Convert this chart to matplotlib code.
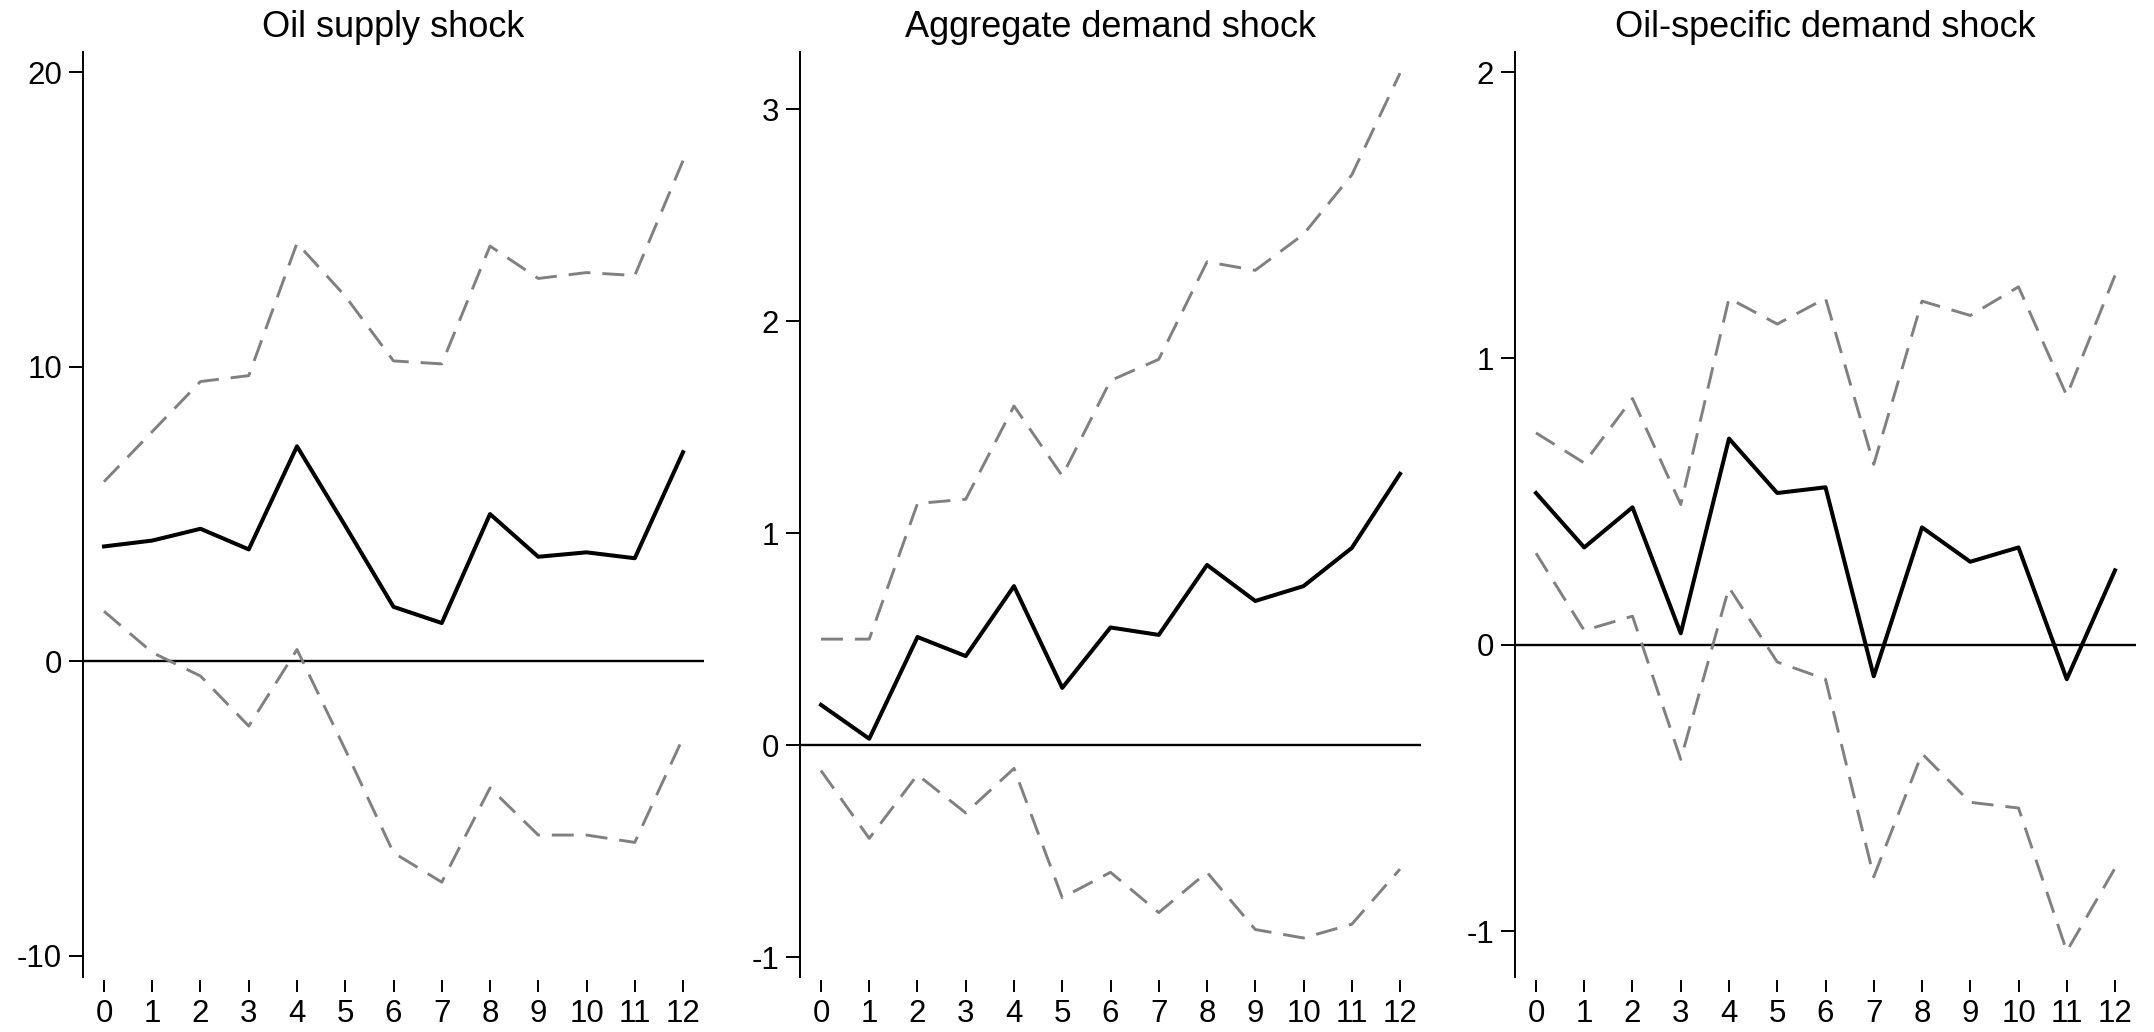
#Impulse responses to the three oil shocks, with error bands

import matplotlib
#Don't try to display the plot
matplotlib.use('Agg')

import matplotlib.pyplot as plt

horizons = list(range(13))

panelTitles = ['Oil supply shock', 'Aggregate demand shock', 'Oil-specific demand shock']

supplyResponse = [3.9, 4.1, 4.5, 3.8, 7.3, 4.6, 1.85, 1.3, 5.0, 3.55, 3.7, 3.5, 7.1]
supplyUpper = [6.1, 7.8, 9.5, 9.7, 14.2, 12.4, 10.2, 10.1, 14.1, 13.0, 13.2, 13.1, 17.0]
supplyLower = [1.7, 0.3, -0.5, -2.2, 0.4, -3.0, -6.5, -7.5, -4.3, -5.9, -5.9, -6.15, -2.6]

demandResponse = [0.19, 0.03, 0.51, 0.42, 0.75, 0.27, 0.555, 0.52, 0.85, 0.68, 0.75, 0.93, 1.28]
demandUpper = [0.5, 0.5, 1.14, 1.16, 1.6, 1.27, 1.72, 1.82, 2.28, 2.24, 2.41, 2.69, 3.17]
demandLower = [-0.12, -0.44, -0.14, -0.32, -0.11, -0.72, -0.6, -0.79, -0.6, -0.87, -0.91, -0.845, -0.585]

oilSpecResponse = [0.53, 0.34, 0.48, 0.04, 0.72, 0.53, 0.55, -0.11, 0.41, 0.29, 0.34, -0.12, 0.26]
oilSpecUpper = [0.74, 0.635, 0.86, 0.49, 1.21, 1.12, 1.21, 0.63, 1.2, 1.15, 1.25, 0.87, 1.29]
oilSpecLower = [0.32, 0.05, 0.1, -0.4, 0.2, -0.06, -0.12, -0.81, -0.38, -0.55, -0.57, -1.07, -0.78]

yTicks = [[-10, 0, 10, 20], [-1, 0, 1, 2, 3], [-1, 0, 1, 2]]
yLimits = [(-10.72, 20.69), (-1.094, 3.27), (-1.16, 2.07)]

plt.rcParams['font.family'] = ['Liberation Sans', 'DejaVu Sans']
plt.rcParams['axes.unicode_minus'] = False
plt.rcParams['lines.scale_dashes'] = False

fig = plt.figure(figsize=(21.54, 10.32), dpi=100)

# axes boxes in pixels: left edge of each y axis, common top/bottom
figW, figH = 2154.0, 1032.0
axLefts = [83, 800, 1515]
axWidth = 621
axTop, axBottom = 52, 977

panels = [(supplyResponse, supplyUpper, supplyLower),
          (demandResponse, demandUpper, demandLower),
          (oilSpecResponse, oilSpecUpper, oilSpecLower)]

for n, (resp, upper, lower) in enumerate(panels):
    ax = fig.add_axes([axLefts[n] / figW, (figH - axBottom) / figH,
                       axWidth / figW, (axBottom - axTop) / figH])

    # zero reference line
    ax.axhline(0, color='black', linewidth=1.7, zorder=1)

    # confidence bands
    ax.plot(horizons, upper, color='#808080', linewidth=2.1, dashes=(15.8, 8.6), zorder=2)
    ax.plot(horizons, lower, color='#808080', linewidth=2.1, dashes=(15.8, 8.6), zorder=2)

    # point estimate
    ax.plot(horizons, resp, color='black', linewidth=2.9, zorder=3)

    ax.set_xlim(-0.435, 12.435)
    ax.set_ylim(*yLimits[n])
    ax.set_xticks(horizons)
    ax.set_yticks(yTicks[n])

    ax.spines['top'].set_visible(False)
    ax.spines['right'].set_visible(False)
    ax.spines['left'].set_linewidth(1.4)
    # x ticks hang just under the plot, with no axis line
    ax.spines['bottom'].set_position(('outward', 2))
    ax.spines['bottom'].set_color('none')

    ax.tick_params(axis='y', direction='out', length=10, width=1.4, pad=5, labelsize=22.5)
    ax.tick_params(axis='x', direction='out', length=8.6, width=1.4, pad=5, labelsize=22.5)

    ax.set_title(panelTitles[n], fontsize=26, pad=11)

plt.savefig('out.png', dpi=100)
